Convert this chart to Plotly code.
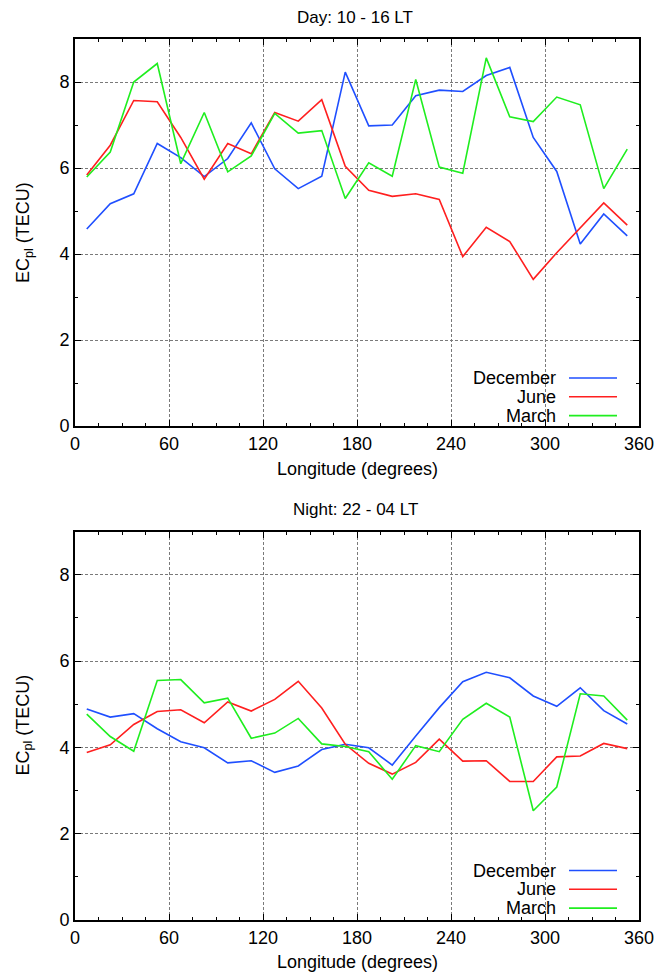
import plotly.graph_objects as go
from plotly.subplots import make_subplots

longitude = [7.5 + 15 * i for i in range(24)]

day_december = [4.58, 5.17, 5.40, 6.57, 6.24, 5.80, 6.22, 7.05, 5.98, 5.52, 5.81, 8.23,
                6.98, 7.00, 7.68, 7.81, 7.78, 8.15, 8.34, 6.71, 5.92, 4.23, 4.93, 4.42]
day_june = [5.84, 6.53, 7.57, 7.54, 6.71, 5.74, 6.57, 6.33, 7.29, 7.09, 7.59, 6.04,
            5.48, 5.34, 5.40, 5.27, 3.94, 4.62, 4.29, 3.41, 4.03, 4.60, 5.19, 4.67]
day_march = [5.79, 6.37, 8.00, 8.43, 6.10, 7.29, 5.91, 6.28, 7.27, 6.81, 6.87, 5.29,
             6.12, 5.81, 8.06, 6.02, 5.88, 8.56, 7.19, 7.08, 7.65, 7.47, 5.52, 6.44]

night_december = [4.89, 4.70, 4.78, 4.43, 4.13, 3.99, 3.64, 3.69, 3.42, 3.57, 3.95, 4.07,
                  3.99, 3.59, 4.26, 4.92, 5.52, 5.74, 5.61, 5.19, 4.95, 5.38, 4.85, 4.54]
night_june = [3.88, 4.06, 4.53, 4.83, 4.87, 4.57, 5.05, 4.84, 5.11, 5.53, 4.91, 4.07,
              3.63, 3.38, 3.65, 4.19, 3.68, 3.69, 3.21, 3.21, 3.78, 3.80, 4.09, 3.97]
night_march = [4.77, 4.25, 3.91, 5.55, 5.57, 5.03, 5.14, 4.21, 4.33, 4.67, 4.08, 4.02,
               3.90, 3.26, 4.04, 3.90, 4.65, 5.02, 4.70, 2.53, 3.08, 5.24, 5.19, 4.63]

series_names = ["December", "June", "March"]
colors = {"December": "#1f4fff", "June": "#ff1f1f", "March": "#1fee1f"}
panel_titles = ["Day: 10 - 16 LT", "Night: 22 - 04 LT"]
x_ticks = [0, 60, 120, 180, 240, 300, 360]
y_ticks = [0, 2, 4, 6, 8]

W, H = 657, 974
ML, MR, MT, MB = 75, 18, 39, 54
PW, PH = W - ML - MR, H - MT - MB

def fy(py):  # pixel y -> paper fraction
    return (H - MB - py) / PH

def fx(px):
    return (px - ML) / PW

fig = make_subplots(rows=2, cols=1)
fig.update_layout(
    template="none",
    width=W, height=H, margin=dict(l=ML, r=MR, t=MT, b=MB, autoexpand=False),
    paper_bgcolor="white", plot_bgcolor="white", showlegend=False,
    font=dict(family="Liberation Sans, Arial, sans-serif", size=18, color="black"),
    yaxis=dict(domain=[fy(426), 1.0]),
    yaxis2=dict(domain=[0.0, fy(531.5)]),
)

data = [
    {"December": day_december, "June": day_june, "March": day_march},
    {"December": night_december, "June": night_june, "March": night_march},
]

for r, panel in enumerate(data, start=1):
    for name in series_names:
        fig.add_trace(go.Scatter(x=longitude, y=panel[name], mode="lines", name=name,
                                 line=dict(color=colors[name], width=1.6)), row=r, col=1)

axis_common = dict(
    automargin=False,
    showline=True, linecolor="black", linewidth=2, mirror="allticks",
    ticks="inside", ticklen=6, tickwidth=1.2, tickcolor="black",
    showgrid=True, gridcolor="#7a7a7a", gridwidth=1, griddash="3px,2px",
    zeroline=False, tickfont=dict(size=18),
)
for r in (1, 2):
    fig.update_xaxes(range=[0, 360], tickvals=x_ticks, ticktext=[str(v) for v in x_ticks],
                     minor=dict(dtick=15, tick0=0, ticks="inside", ticklen=3, tickcolor="black",
                                showgrid=False),
                     **axis_common, row=r, col=1)
    fig.update_yaxes(range=[0, 9], tickvals=y_ticks, ticktext=[str(v) for v in y_ticks],
                     minor=dict(dtick=1, tick0=0, ticks="inside", ticklen=3, tickcolor="black",
                                showgrid=False),
                     **axis_common, row=r, col=1)

annotations = []
shapes = []
for i in range(2):
    off = 0 if i == 0 else 492.5
    annotations.append(dict(text=panel_titles[i], x=fx(355), y=fy(17 + off), xref="paper", yref="paper",
                            showarrow=False, xanchor="center", yanchor="middle", font=dict(size=17)))
    annotations.append(dict(text="Longitude (degrees)", x=fx(357), y=fy(469 + off), xref="paper",
                            yref="paper", showarrow=False, xanchor="center", yanchor="middle",
                            font=dict(size=18)))
    annotations.append(dict(text="EC<sub>pl</sub> (TECU)", x=fx(24), y=fy(233 + off), xref="paper",
                            yref="paper", showarrow=False, textangle=-90, xanchor="center",
                            yanchor="middle", font=dict(size=18)))
    for k, name in enumerate(series_names):
        ypx = 378 + 18.8 * k + off
        annotations.append(dict(text=name, x=fx(558), y=fy(ypx), xref="paper", yref="paper",
                                showarrow=False, xanchor="right", yanchor="middle",
                                font=dict(size=18)))
        shapes.append(dict(type="line", xref="paper", yref="paper", x0=fx(569), x1=fx(617),
                           y0=fy(ypx), y1=fy(ypx), line=dict(color=colors[name], width=1.6)))

fig.update_layout(annotations=annotations, shapes=shapes)
fig.write_html("out.html")
